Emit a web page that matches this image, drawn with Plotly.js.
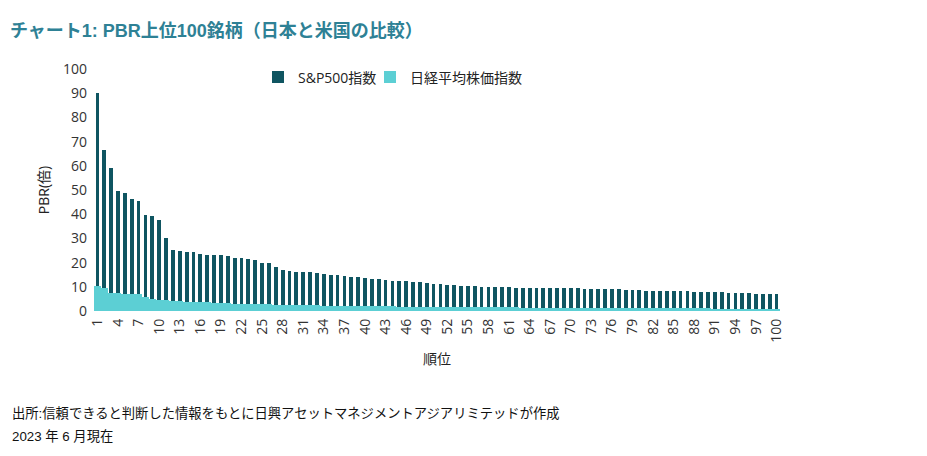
<!DOCTYPE html>
<html>
<head>
<meta charset="utf-8">
<script src="https://cdn.plot.ly/plotly-3.0.1.min.js"></script>
<style>html,body{margin:0;padding:0;background:#fff;}#chart{width:927px;height:456px;}</style>
</head>
<body>
<div id="chart"></div>
<script>
const ranks = Array.from({length: 100}, (_, i) => String(i + 1));
const tickLabels = ["1","4","7","10","13","16","19","22","25","28","31","34","37","40","43","46","49","52","55","58","61","64","67","70","73","76","79","82","85","88","91","94","97","100"];
const spValues = [
  90.0, 66.5, 59.0, 49.6, 48.6, 46.3, 45.3, 39.7, 39.2, 37.6,
  30.0, 25.2, 24.8, 24.3, 24.3, 23.5, 23.2, 23.0, 23.0, 22.8,
  21.9, 21.7, 21.4, 21.2, 19.8, 19.8, 18.1, 17.0, 16.5, 16.2,
  16.0, 16.0, 15.6, 15.4, 14.9, 14.7, 14.5, 14.2, 14.0, 13.6,
  13.4, 13.3, 13.0, 12.6, 12.3, 12.2, 12.0, 11.9, 11.5, 11.3,
  11.1, 10.9, 10.8, 10.5, 10.4, 10.4, 10.1, 10.1, 10.1, 10.0,
  10.0, 9.7, 9.7, 9.7, 9.7, 9.6, 9.6, 9.4, 9.4, 9.4,
  9.3, 9.0, 9.0, 9.0, 9.0, 8.9, 8.9, 8.6, 8.6, 8.6,
  8.4, 8.4, 8.3, 8.3, 8.2, 8.2, 8.1, 8.0, 7.9, 7.8,
  7.8, 7.7, 7.6, 7.5, 7.4, 7.3, 7.1, 7.1, 7.0, 6.9
];
const nikkeiValues = [
  10.4, 9.7, 7.6, 7.3, 7.1, 7.1, 7.1, 5.7, 5.0, 4.6,
  4.6, 4.3, 4.2, 3.8, 3.7, 3.7, 3.6, 3.5, 3.3, 3.2,
  3.1, 3.0, 2.9, 2.9, 2.8, 2.7, 2.6, 2.5, 2.5, 2.4,
  2.4, 2.3, 2.3, 2.2, 2.2, 2.2, 2.1, 2.1, 2.0, 2.0,
  2.0, 1.9, 1.9, 1.9, 1.8, 1.8, 1.8, 1.8, 1.7, 1.7,
  1.7, 1.7, 1.6, 1.6, 1.6, 1.6, 1.6, 1.5, 1.5, 1.5,
  1.5, 1.5, 1.4, 1.4, 1.4, 1.4, 1.4, 1.3, 1.3, 1.3,
  1.3, 1.3, 1.3, 1.2, 1.2, 1.2, 1.2, 1.2, 1.2, 1.2,
  1.1, 1.1, 1.1, 1.1, 1.1, 1.1, 1.1, 1.1, 1.1, 1.1,
  1.0, 1.0, 1.0, 1.0, 1.0, 1.0, 1.0, 1.0, 1.0, 1.0
];
const seriesNames = ["S&P500指数", "日経平均株価指数"];
const titleText = "チャート1: PBR上位100銘柄（日本と米国の比較）";
const yTitle = "PBR(倍)";
const xTitle = "順位";
const noteLines = ["出所:信頼できると判断した情報をもとに日興アセットマネジメントアジアリミテッドが作成", "2023 年 6 月現在"];

const axisFont = {family: "Open Sans, Noto Sans CJK JP, sans-serif", size: 14, color: "#333"};
const noteFont = {family: "Liberation Sans, Noto Sans CJK JP, sans-serif", size: 13.3, color: "#111"};
const legendFont = {family: "Open Sans, Noto Sans CJK JP, sans-serif", size: 14, color: "#222"};

const traces = [
  {type: "bar", x: ranks, y: spValues, name: seriesNames[0], width: 0.55, legend: "legend",
   marker: {color: "#0f5561", line: {width: 0}}},
  {type: "bar", x: ranks, y: nikkeiValues, name: seriesNames[1], width: 1.0, legend: "legend2",
   marker: {color: "#5ccfd4", line: {width: 0}}}
];

const layout = {
  width: 927, height: 456,
  paper_bgcolor: "#fff", plot_bgcolor: "#fff",
  margin: {l: 94, r: 147, t: 69, b: 145},
  barmode: "overlay",
  bargap: 0,
  title: {text: "<b>" + titleText + "</b>", xref: "container", yref: "container",
          x: 10/927, xanchor: "left", y: 1 - 31/456, yanchor: "middle",
          font: {family: "Liberation Sans, Noto Sans CJK JP, sans-serif", size: 18, color: "#2e8195"}},
  showlegend: true,
  legend: {orientation: "h", x: (258 - 94) / 686, xanchor: "left", y: 0.965, yanchor: "middle",
           font: legendFont, bgcolor: "rgba(0,0,0,0)"},
  legend2: {orientation: "h", x: (370 - 94) / 686, xanchor: "left", y: 0.965, yanchor: "middle",
           font: legendFont, bgcolor: "rgba(0,0,0,0)"},
  xaxis: {type: "category", tickmode: "array", tickvals: tickLabels, ticktext: tickLabels,
          tickangle: -90, tickfont: axisFont, showgrid: false, zeroline: false,
          showline: false, ticks: "", range: [-0.5, 99.5], ticklabelstandoff: 4,
          title: {text: xTitle, font: {family: "Noto Sans CJK JP, sans-serif", size: 14, color: "#222"}, standoff: 12}},
  yaxis: {range: [0, 100], dtick: 10, tickfont: axisFont, showgrid: false, zeroline: false,
          showline: false, ticks: "", ticklabelstandoff: 6,
          title: {text: yTitle, font: {family: "Open Sans, Noto Sans CJK JP, sans-serif", size: 14, color: "#222"}, standoff: 10}},
  annotations: [
    {text: noteLines[0], xref: "paper", yref: "paper",
     x: (10 - 94) / 686, y: (311 - 413) / 242, xanchor: "left", yanchor: "middle", align: "left",
     showarrow: false, font: noteFont},
    {text: noteLines[1], xref: "paper", yref: "paper",
     x: (10 - 94) / 686, y: (311 - 436) / 242, xanchor: "left", yanchor: "middle", align: "left",
     showarrow: false, font: noteFont}
  ]
};

Plotly.newPlot("chart", traces, layout, {displayModeBar: false, staticPlot: true});
</script>
</body>
</html>
